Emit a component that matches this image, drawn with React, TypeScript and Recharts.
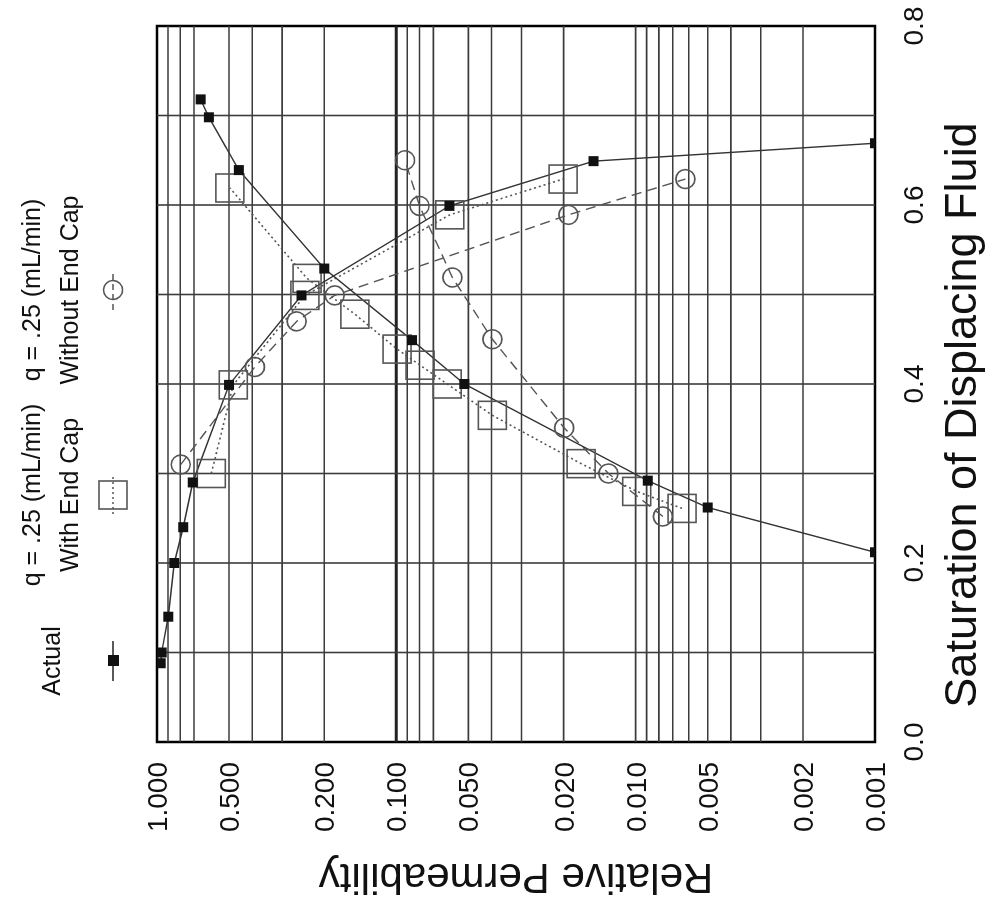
import React from 'react';
import { LineChart, Line, XAxis, YAxis, ReferenceLine, ReferenceArea } from 'recharts';

// ---------- data ----------
const satTicks = [0, 0.2, 0.4, 0.6, 0.8];
const permTicks = [1, 0.5, 0.2, 0.1, 0.05, 0.02, 0.01, 0.005, 0.002, 0.001];
const satGrid = [0.1, 0.2, 0.3, 0.4, 0.5, 0.6, 0.7];
const permGrid = [0.9, 0.8, 0.7, 0.5, 0.4, 0.3, 0.2, 0.09, 0.08, 0.07, 0.05, 0.04, 0.03, 0.02, 0.01, 0.009, 0.008, 0.007, 0.006, 0.005, 0.004, 0.003, 0.002];
const permMajor = [0.1];

// Actual (filled squares, solid line)
const actualRiseSat = [0.212, 0.262, 0.292, 0.4, 0.449, 0.529, 0.639, 0.698, 0.718];
const actualRisePerm = [0.001, 0.005, 0.0089, 0.052, 0.086, 0.2, 0.455, 0.607, 0.657];
const actualFallSat = [0.088, 0.1, 0.14, 0.2, 0.24, 0.29, 0.399, 0.499, 0.599, 0.649, 0.669];
const actualFallPerm = [0.965, 0.956, 0.897, 0.847, 0.777, 0.709, 0.5, 0.249, 0.06, 0.015, 0.001];

// q = .25 With End Cap (open squares, dotted line)
const capRiseSat = [0.261, 0.28, 0.311, 0.365, 0.4, 0.421, 0.439, 0.478, 0.518, 0.619];
const capRisePerm = [0.0064, 0.0099, 0.0169, 0.0397, 0.0613, 0.0796, 0.0993, 0.149, 0.236, 0.496];
const capFallSat = [0.3, 0.399, 0.499, 0.589, 0.629];
const capFallPerm = [0.593, 0.48, 0.241, 0.0598, 0.0201];

// q = .25 Without End Cap (open circles, dashed line)
const noCapRiseSat = [0.252, 0.3, 0.351, 0.45, 0.519, 0.599, 0.65];
const noCapRisePerm = [0.0077, 0.013, 0.0199, 0.0397, 0.0583, 0.08, 0.092];
const noCapFallSat = [0.31, 0.419, 0.47, 0.499, 0.589, 0.629];
const noCapFallPerm = [0.796, 0.39, 0.261, 0.181, 0.0191, 0.0062];

const zip = (s: number[], p: number[]) => s.map((sat, i) => ({ sat, perm: p[i] }));

// ---------- layout ----------
const W = 911;
const H = 987;
const MARGIN = { top: 157, right: 26, bottom: 0, left: 0 };
const Y_AXIS_W = 169;
const X_AXIS_H = 112;
const FONT = "'Liberation Sans', Arial, Helvetica, sans-serif";
const INK = '#111';
const GRID = '#3c3c3c';

const FilledSquare = (props: any) => {
  const { cx, cy, index } = props;
  if (cx == null || cy == null) return <g key={`fs${index}`} />;
  return <rect key={`fs${index}`} x={cx - 5} y={cy - 5} width={10} height={10} fill="#111" />;
};
const OpenSquare = (props: any) => {
  const { cx, cy, index } = props;
  if (cx == null || cy == null) return <g key={`os${index}`} />;
  return <rect key={`os${index}`} x={cx - 14} y={cy - 14} width={28} height={28} fill="none" stroke="#555" strokeWidth={1.6} />;
};
const OpenCircle = (props: any) => {
  const { cx, cy, index } = props;
  if (cx == null || cy == null) return <g key={`oc${index}`} />;
  return <circle key={`oc${index}`} cx={cx} cy={cy} r={9.5} fill="none" stroke="#555" strokeWidth={1.6} />;
};

const plotTop = MARGIN.top;
const plotBottom = H - MARGIN.bottom - X_AXIS_H;

const Overlay = () => (
  <svg width={W} height={H} style={{ position: 'absolute', left: 0, top: 0, pointerEvents: 'none' }} fontFamily={FONT} fill={INK}>
    {/* axis titles */}
    <text transform={`translate(47, ${(plotTop + plotBottom) / 2}) rotate(-90)`} textAnchor="middle" fontSize={42}>Relative Permeability</text>
    <text x={496} y={976} textAnchor="middle" fontSize={45}>Saturation of Displacing Fluid</text>
    {/* legend: Actual */}
    <text x={250} y={60} textAnchor="middle" fontSize={25}>Actual</text>
    <line x1={230} x2={270} y1={113} y2={113} stroke="#222" strokeWidth={1.5} />
    <rect x={245} y={108} width={11} height={11} fill="#111" />
    {/* legend: With End Cap */}
    <text x={416} y={40} textAnchor="middle" fontSize={25}>q = .25 (mL/min)</text>
    <text x={416} y={78} textAnchor="middle" fontSize={25}>With End Cap</text>
    <line x1={397} x2={435} y1={113} y2={113} stroke="#555" strokeWidth={1.6} strokeDasharray="2 3" />
    <rect x={402} y={99} width={28} height={28} fill="none" stroke="#555" strokeWidth={1.6} />
    {/* legend: Without End Cap */}
    <text x={621} y={40} textAnchor="middle" fontSize={25}>q = .25 (mL/min)</text>
    <text x={621} y={78} textAnchor="middle" fontSize={25}>Without End Cap</text>
    <line x1={601} x2={641} y1={113} y2={113} stroke="#555" strokeWidth={1.4} strokeDasharray="6 4" />
    <circle cx={621} cy={113} r={9.5} fill="none" stroke="#555" strokeWidth={1.6} />
  </svg>
);

const Chart = () => (
  <div style={{ position: 'relative', width: W, height: H, background: '#fff' }}>
    <LineChart width={W} height={H} margin={MARGIN}>
      <XAxis
        type="number"
        dataKey="sat"
        domain={[0, 0.8]}
        ticks={satTicks}
        interval={0}
        allowDataOverflow
        axisLine={false}
        tickLine={false}
        tickSize={0}
        tickMargin={28}
        height={X_AXIS_H}
        tickFormatter={(v: number) => v.toFixed(1)}
        tick={{ fontSize: 28, fill: INK, fontFamily: FONT }}
      />
      <YAxis
        type="number"
        dataKey="perm"
        scale="log"
        domain={[0.001, 1]}
        ticks={permTicks}
        interval={0}
        allowDataOverflow
        axisLine={false}
        tickLine={false}
        tickSize={0}
        tickMargin={20}
        width={Y_AXIS_W}
        tickFormatter={(v: number) => v.toFixed(3)}
        tick={{ fontSize: 28, fill: INK, fontFamily: FONT }}
      />
      {permGrid.map((v) => (
        <ReferenceLine key={`pg${v}`} y={v} stroke={GRID} strokeWidth={1.6} />
      ))}
      {permMajor.map((v) => (
        <ReferenceLine key={`pm${v}`} y={v} stroke="#222" strokeWidth={3} />
      ))}
      {satGrid.map((v) => (
        <ReferenceLine key={`sg${v}`} x={v} stroke={GRID} strokeWidth={1.6} />
      ))}
      <ReferenceArea x1={0} x2={0.8} y1={0.001} y2={1} fill="none" stroke="#000" strokeWidth={2.5} />
      <Line data={zip(capRiseSat, capRisePerm)} dataKey="perm" type="linear" stroke="#555" strokeWidth={1.6} strokeDasharray="2 3" dot={OpenSquare} activeDot={false} isAnimationActive={false} />
      <Line data={zip(capFallSat, capFallPerm)} dataKey="perm" type="linear" stroke="#555" strokeWidth={1.6} strokeDasharray="2 3" dot={OpenSquare} activeDot={false} isAnimationActive={false} />
      <Line data={zip(noCapRiseSat, noCapRisePerm)} dataKey="perm" type="linear" stroke="#555" strokeWidth={1.4} strokeDasharray="10 6" dot={OpenCircle} activeDot={false} isAnimationActive={false} />
      <Line data={zip(noCapFallSat, noCapFallPerm)} dataKey="perm" type="linear" stroke="#555" strokeWidth={1.4} strokeDasharray="10 6" dot={OpenCircle} activeDot={false} isAnimationActive={false} />
      <Line data={zip(actualRiseSat, actualRisePerm)} dataKey="perm" type="linear" stroke="#333" strokeWidth={1.4} dot={FilledSquare} activeDot={false} isAnimationActive={false} />
      <Line data={zip(actualFallSat, actualFallPerm)} dataKey="perm" type="linear" stroke="#333" strokeWidth={1.4} dot={FilledSquare} activeDot={false} isAnimationActive={false} />
    </LineChart>
    <Overlay />
  </div>
);

export default function App() {
  return (
    <div
      style={{
        position: 'fixed',
        left: 0,
        top: 0,
        width: W,
        height: H,
        transformOrigin: '0 0',
        transform: `translate(0px, ${W}px) rotate(-90deg)`,
        background: '#fff',
      }}
    >
      <Chart />
    </div>
  );
}
